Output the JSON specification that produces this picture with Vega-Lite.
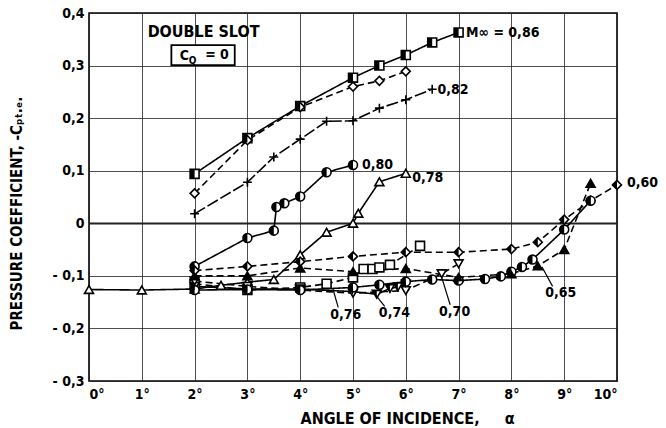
{
  "$schema": "https://vega.github.io/schema/vega-lite/v6.json",
  "width": 528,
  "height": 368,
  "autosize": {"type": "none"},
  "padding": {"left": 89, "top": 13, "right": 49, "bottom": 47},
  "background": "white",
  "config": {
    "font": "DejaVu Sans Condensed",
    "view": {"stroke": "black", "strokeWidth": 1.6},
    "axis": {
      "labelFont": "DejaVu Sans Condensed",
      "titleFont": "DejaVu Sans Condensed",
      "labelFontSize": 14,
      "labelFontWeight": "bold",
      "titleFontSize": 15,
      "titleFontWeight": "bold",
      "labelColor": "black",
      "titleColor": "black",
      "domain": false,
      "ticks": false,
      "gridColor": "#222",
      "gridOpacity": 1
    },
    "text": {"fontWeight": "bold"}
  },
  "datasets": {
    "series": [
      {"s": "0,86", "a": 2, "cp": 0.094}, {"s": "0,86", "a": 3, "cp": 0.162}, {"s": "0,86", "a": 4, "cp": 0.223}, {"s": "0,86", "a": 5, "cp": 0.277}, {"s": "0,86", "a": 5.5, "cp": 0.3}, {"s": "0,86", "a": 6, "cp": 0.32}, {"s": "0,86", "a": 6.5, "cp": 0.344}, {"s": "0,86", "a": 7, "cp": 0.363},
      {"s": "0,84", "a": 2, "cp": 0.057}, {"s": "0,84", "a": 3, "cp": 0.158}, {"s": "0,84", "a": 4, "cp": 0.221}, {"s": "0,84", "a": 5, "cp": 0.26}, {"s": "0,84", "a": 5.5, "cp": 0.271}, {"s": "0,84", "a": 6, "cp": 0.289},
      {"s": "0,82", "a": 2, "cp": 0.018}, {"s": "0,82", "a": 3, "cp": 0.078}, {"s": "0,82", "a": 3.5, "cp": 0.126}, {"s": "0,82", "a": 4, "cp": 0.16}, {"s": "0,82", "a": 4.5, "cp": 0.194}, {"s": "0,82", "a": 5, "cp": 0.195}, {"s": "0,82", "a": 5.5, "cp": 0.219}, {"s": "0,82", "a": 6, "cp": 0.235}, {"s": "0,82", "a": 6.5, "cp": 0.255},
      {"s": "0,80", "a": 2, "cp": -0.082}, {"s": "0,80", "a": 3, "cp": -0.028}, {"s": "0,80", "a": 3.5, "cp": -0.014}, {"s": "0,80", "a": 3.55, "cp": 0.031}, {"s": "0,80", "a": 3.7, "cp": 0.038}, {"s": "0,80", "a": 4, "cp": 0.051}, {"s": "0,80", "a": 4.5, "cp": 0.097}, {"s": "0,80", "a": 5, "cp": 0.111},
      {"s": "0,78", "a": 0, "cp": -0.126}, {"s": "0,78", "a": 1, "cp": -0.127}, {"s": "0,78", "a": 2, "cp": -0.125}, {"s": "0,78", "a": 2.5, "cp": -0.118}, {"s": "0,78", "a": 3, "cp": -0.112}, {"s": "0,78", "a": 3.5, "cp": -0.107}, {"s": "0,78", "a": 4, "cp": -0.06}, {"s": "0,78", "a": 4.5, "cp": -0.017}, {"s": "0,78", "a": 5, "cp": 0.0}, {"s": "0,78", "a": 5.1, "cp": 0.019}, {"s": "0,78", "a": 5.5, "cp": 0.079}, {"s": "0,78", "a": 6, "cp": 0.095},
      {"s": "0,76", "a": 2, "cp": -0.115}, {"s": "0,76", "a": 3, "cp": -0.127}, {"s": "0,76", "a": 4, "cp": -0.122}, {"s": "0,76", "a": 4.5, "cp": -0.115}, {"s": "0,76", "a": 5, "cp": -0.103}, {"s": "0,76", "a": 5.2, "cp": -0.087}, {"s": "0,76", "a": 5.37, "cp": -0.087}, {"s": "0,76", "a": 5.5, "cp": -0.084}, {"s": "0,76", "a": 5.7, "cp": -0.079}, {"s": "0,76", "a": 6.27, "cp": -0.043},
      {"s": "0,74", "a": 2, "cp": -0.12}, {"s": "0,74", "a": 3, "cp": -0.125}, {"s": "0,74", "a": 4, "cp": -0.125}, {"s": "0,74", "a": 5, "cp": -0.13}, {"s": "0,74", "a": 5.45, "cp": -0.135}, {"s": "0,74", "a": 5.7, "cp": -0.124}, {"s": "0,74", "a": 5.85, "cp": -0.121}, {"s": "0,74", "a": 6, "cp": -0.116},
      {"s": "0,70", "a": 2, "cp": -0.11}, {"s": "0,70", "a": 3, "cp": -0.12}, {"s": "0,70", "a": 4, "cp": -0.127}, {"s": "0,70", "a": 5, "cp": -0.133}, {"s": "0,70", "a": 6, "cp": -0.128}, {"s": "0,70", "a": 6.68, "cp": -0.096}, {"s": "0,70", "a": 7, "cp": -0.077},
      {"s": "0,65", "a": 2, "cp": -0.1}, {"s": "0,65", "a": 3, "cp": -0.1}, {"s": "0,65", "a": 4, "cp": -0.085}, {"s": "0,65", "a": 5, "cp": -0.092}, {"s": "0,65", "a": 6, "cp": -0.086}, {"s": "0,65", "a": 7, "cp": -0.103}, {"s": "0,65", "a": 8, "cp": -0.096}, {"s": "0,65", "a": 8.5, "cp": -0.081}, {"s": "0,65", "a": 9, "cp": -0.05}, {"s": "0,65", "a": 9.5, "cp": 0.076},
      {"s": "0,60", "a": 2, "cp": -0.09}, {"s": "0,60", "a": 3, "cp": -0.082}, {"s": "0,60", "a": 4, "cp": -0.073}, {"s": "0,60", "a": 5, "cp": -0.063}, {"s": "0,60", "a": 6, "cp": -0.055}, {"s": "0,60", "a": 7, "cp": -0.055}, {"s": "0,60", "a": 8, "cp": -0.049}, {"s": "0,60", "a": 8.5, "cp": -0.036}, {"s": "0,60", "a": 9, "cp": 0.007}, {"s": "0,60", "a": 9.5, "cp": 0.043}, {"s": "0,60", "a": 10, "cp": 0.073},
      {"s": "unlabelled", "a": 2, "cp": -0.127}, {"s": "unlabelled", "a": 3, "cp": -0.126}, {"s": "unlabelled", "a": 4, "cp": -0.127}, {"s": "unlabelled", "a": 5, "cp": -0.122}, {"s": "unlabelled", "a": 5.5, "cp": -0.117}, {"s": "unlabelled", "a": 6, "cp": -0.111}, {"s": "unlabelled", "a": 6.5, "cp": -0.107}, {"s": "unlabelled", "a": 7, "cp": -0.109}, {"s": "unlabelled", "a": 7.5, "cp": -0.106}, {"s": "unlabelled", "a": 7.8, "cp": -0.101}, {"s": "unlabelled", "a": 8, "cp": -0.092}, {"s": "unlabelled", "a": 8.2, "cp": -0.083}, {"s": "unlabelled", "a": 8.4, "cp": -0.069}, {"s": "unlabelled", "a": 9, "cp": -0.012}, {"s": "unlabelled", "a": 9.5, "cp": 0.043}
    ],
    "labels": [
      {"t": "M∞ = 0,86", "a": 7.14, "cp": 0.362},
      {"t": "0,82", "a": 6.6, "cp": 0.254},
      {"t": "0,80", "a": 5.17, "cp": 0.111},
      {"t": "0,78", "a": 6.12, "cp": 0.086},
      {"t": "0,60", "a": 10.19, "cp": 0.077},
      {"t": "0,76", "a": 4.57, "cp": -0.174},
      {"t": "0,74", "a": 5.49, "cp": -0.171},
      {"t": "0,70", "a": 6.63, "cp": -0.168},
      {"t": "0,65", "a": 8.64, "cp": -0.133}
    ],
    "leaders": [
      {"a": 4.72, "cp": -0.16, "a2": 4.62, "cp2": -0.125},
      {"a": 5.6, "cp": -0.158, "a2": 5.42, "cp2": -0.135},
      {"a": 6.84, "cp": -0.155, "a2": 6.68, "cp2": -0.103},
      {"a": 8.78, "cp": -0.12, "a2": 8.58, "cp2": -0.083}
    ],
    "box": [{"a": 1.56, "a2": 2.76, "cp": 0.339, "cp2": 0.301}],
    "title1": [{"t": "DOUBLE SLOT", "a": 2.17, "cp": 0.364}],
    "cq": [{"t": "C", "a": 1.72, "cp": 0.318}, {"t": "= 0", "a": 2.2, "cp": 0.32}],
    "cqsub": [{"t": "Q", "a": 1.89, "cp": 0.309}]
  },
  "encoding": {
    "x": {
      "field": "a", "type": "quantitative",
      "scale": {"domain": [0, 10], "nice": false, "zero": false},
      "axis": {
        "values": [0, 1, 2, 3, 4, 5, 6, 7, 8, 9, 10],
        "labelExpr": "datum.value + '°'",
        "labelPadding": 6,
        "gridWidth": 0.8,
        "title": "ANGLE OF INCIDENCE,\u00a0\u00a0\u00a0\u00a0\u00a0α",
        "titleFontSize": 16,
        "titleX": 318,
        "titleY": 37,
        "titleBaseline": "middle",
        "encode": {"title": {"update": {"letterSpacing": {"value": 2.2}}}}
      }
    },
    "y": {
      "field": "cp", "type": "quantitative",
      "scale": {"domain": [-0.3, 0.4], "nice": false, "zero": false},
      "axis": {
        "values": [-0.3, -0.2, -0.1, 0, 0.1, 0.2, 0.3, 0.4],
        "labelExpr": "datum.value == 0 ? '0' : (datum.value < 0 ? '- ' : '') + replace(format(abs(datum.value), '.1f'), '.', ',')",
        "labelPadding": 5,
        "gridWidth": {"condition": {"test": "datum.value == 0", "value": 2}, "value": 0.8},
        "title": "PRESSURE COEFFICIENT, -Cₚₜ.ₑ.",
        "titleX": -73,
        "titleY": 200,
        "titleBaseline": "middle",
        "encode": {"title": {"update": {"letterSpacing": {"value": 2.6}}}}
      }
    }
  },
  "layer": [
    {
      "data": {"name": "series"},
      "mark": {"type": "line", "color": "black", "strokeWidth": 1.6},
      "encoding": {
        "detail": {"field": "s"},
        "strokeDash": {
          "field": "s", "type": "nominal", "legend": null,
          "scale": {
            "domain": ["0,86", "0,84", "0,82", "0,80", "0,78", "0,76", "0,74", "0,70", "0,65", "0,60", "unlabelled"],
            "range": [[1, 0], [7, 4], [12, 3], [1, 0], [1, 0], [7, 4], [1, 0], [7, 4], [7, 4], [7, 4], [1, 0]]
          }
        }
      }
    },
    {
      "data": {"name": "series"},
      "mark": {"type": "point", "filled": true, "fill": "white", "stroke": "black", "strokeWidth": 1.6, "size": 80, "opacity": 1},
      "encoding": {
        "shape": {
          "field": "s", "type": "nominal", "legend": null,
          "scale": {
            "domain": ["0,86", "0,84", "0,82", "0,80", "0,78", "0,76", "0,74", "0,70", "0,65", "0,60", "unlabelled"],
            "range": ["square", "diamond", "M-1,0L1,0M0,-1L0,1", "circle", "triangle-up", "square", "triangle-down", "triangle-down", "triangle-up", "diamond", "circle"]
          }
        }
      }
    },
    {
      "data": {"name": "series"},
      "transform": [{"filter": {"field": "s", "oneOf": ["0,86", "0,80", "0,74", "0,65", "0,60", "unlabelled"]}}],
      "mark": {"type": "point", "filled": true, "fill": "black", "strokeWidth": 0, "size": 80, "opacity": 1},
      "encoding": {
        "shape": {
          "field": "s", "type": "nominal", "legend": null,
          "scale": {
            "domain": ["0,86", "0,80", "0,74", "0,65", "0,60", "unlabelled"],
            "range": ["M-1,-1L0,-1L0,1L-1,1Z", "M0,-1A1,1,0,0,0,0,1Z", "M0,0.866L-1,-0.866L0,-0.866Z", "triangle-up", "M0,-1L-1,0L0,1Z", "M0,-1A1,1,0,0,0,0,1Z"]
          }
        }
      }
    },
    {
      "data": {"name": "leaders"},
      "mark": {"type": "rule", "color": "black", "strokeWidth": 1.2},
      "encoding": {"x2": {"field": "a2"}, "y2": {"field": "cp2"}}
    },
    {
      "data": {"name": "labels"},
      "mark": {"type": "text", "align": "left", "baseline": "middle", "fontSize": 14, "color": "black"},
      "encoding": {"text": {"field": "t"}}
    },
    {
      "data": {"name": "box"},
      "mark": {"type": "rect", "fill": "white", "stroke": "black", "strokeWidth": 1.8},
      "encoding": {"x2": {"field": "a2"}, "y2": {"field": "cp2"}}
    },
    {
      "data": {"name": "title1"},
      "mark": {"type": "text", "align": "center", "baseline": "middle", "fontSize": 16, "color": "black"},
      "encoding": {"text": {"field": "t"}}
    },
    {
      "data": {"name": "cq"},
      "mark": {"type": "text", "align": "left", "baseline": "middle", "fontSize": 14, "color": "black"},
      "encoding": {"text": {"field": "t"}}
    },
    {
      "data": {"name": "cqsub"},
      "mark": {"type": "text", "align": "left", "baseline": "middle", "fontSize": 10, "color": "black"},
      "encoding": {"text": {"field": "t"}}
    }
  ],
  "resolve": {"scale": {"shape": "independent", "strokeDash": "independent"}}
}
